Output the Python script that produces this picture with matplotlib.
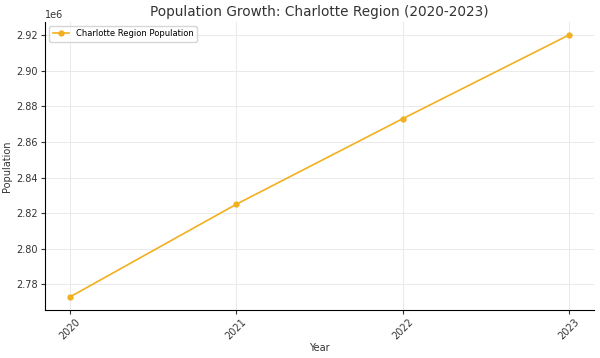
import matplotlib
matplotlib.use("Agg")
import matplotlib.pyplot as plt

years = [2020, 2021, 2022, 2023]
population = [2773000, 2825000, 2873000, 2920000]
series_label = "Charlotte Region Population"

fig = plt.figure(figsize=(6, 3.58), dpi=100)
ax = fig.add_axes([0.075, 0.134, 0.915, 0.805])
ax.plot(years, population, marker='o', markersize=3.5, color='#f2b01e', linewidth=1.2, label=series_label)
ax.set_title("Population Growth: Charlotte Region (2020-2023)", fontsize=9.8, color='#333333', pad=4)
ax.set_xlabel("Year", fontsize=7, color='#333333', labelpad=1)
ax.set_ylabel("Population", fontsize=7, color='#333333', labelpad=3)
ax.set_xticks(years)
ax.set_xticklabels([str(y) for y in years], rotation=45)
ax.tick_params(labelsize=7, colors='#333333', length=3, pad=2)
ax.yaxis.get_offset_text().set_fontsize(7)
ax.grid(True, color='#e6e6e6', linewidth=0.6)
ax.spines['top'].set_visible(False)
ax.spines['right'].set_visible(False)
ax.legend(loc='upper left', fontsize=6, frameon=True)
fig.savefig("out.png", dpi=100)
